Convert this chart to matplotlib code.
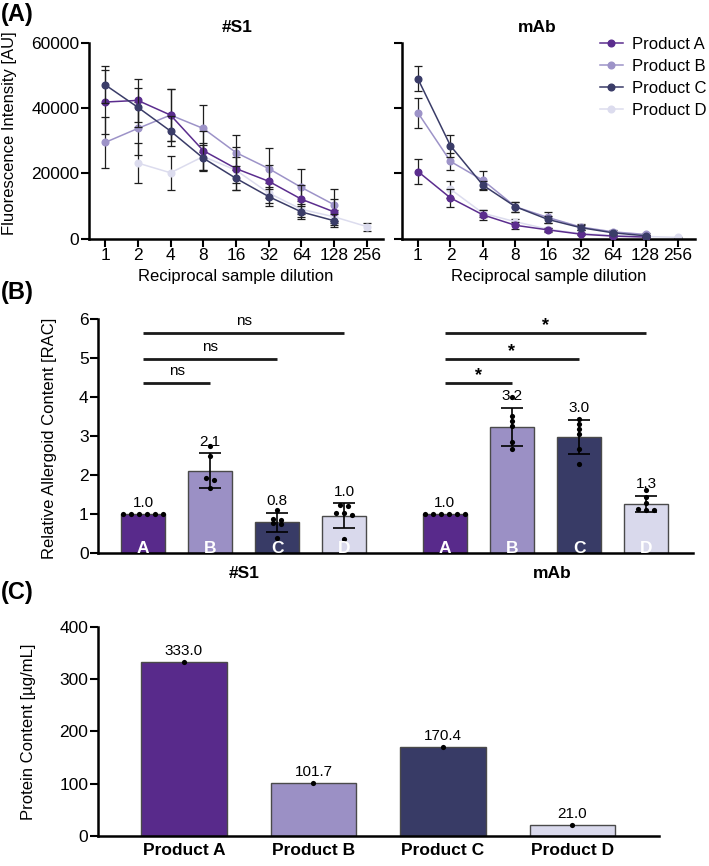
import numpy as np
import matplotlib
matplotlib.use("Agg")
import matplotlib.pyplot as plt
from matplotlib.lines import Line2D

plt.rcParams['font.family'] = ['Liberation Sans', 'DejaVu Sans']

# ---------------- data ----------------
products = ['Product A', 'Product B', 'Product C', 'Product D']
letters = ['A', 'B', 'C', 'D']
colors = ['#582a8b', '#9b90c5', '#383b66', '#d9d9ec']
line_colors = ['#5b2d8e', '#9d93c8', '#3a3c68', '#dcdcee']
dilutions = [1, 2, 4, 8, 16, 32, 64, 128, 256]
nan = np.nan

# Panel A, #S1 (fluorescence, AU)
s1_A = [41900, 42400, 37900, 27000, 21500, 17600, 12100, 8200, nan]
s1_A_err = [9700, 6600, 8000, 6000, 6500, 5000, 4500, 4000, nan]
s1_B = [29500, 33800, 37900, 33800, 26400, 21500, 15700, 10400, nan]
s1_B_err = [7700, 8000, 8000, 7300, 5400, 6400, 5700, 4900, nan]
s1_C = [47200, 40300, 33000, 24700, 18500, 12900, 8200, 5500, nan]
s1_C_err = [5700, 6000, 4500, 4000, 3700, 3000, 2300, 2000, nan]
s1_D = [nan, 23200, 20200, 25200, 21000, 14000, 9000, 6700, 3700]
s1_D_err = [nan, 6200, 5200, 4000, 4000, 3000, 2500, 2000, 1200]

# Panel A, mAb
mab_A = [20600, 12500, 7300, 4100, 2700, 1400, 800, 500, nan]
mab_A_err = [3700, 2800, 1500, 1000, 600, 400, 300, 200, nan]
mab_B = [38600, 23700, 17900, 9800, 6500, 3600, 2100, 1300, nan]
mab_B_err = [4600, 2600, 2900, 1500, 1800, 800, 500, 300, nan]
mab_C = [49000, 28500, 16400, 9800, 5900, 3400, 1800, 900, nan]
mab_C_err = [3800, 3400, 1200, 1500, 1000, 700, 400, 300, nan]
mab_D = [nan, 15200, 7800, 5200, 2900, 1600, 1000, 700, 400]
mab_D_err = [nan, 2600, 1000, 800, 500, 300, 200, 200, 200]

# Panel B, relative allergoid content
groups = ['#S1', 'mAb']
s1_rac_mean = [1.0, 2.12, 0.79, 0.96]
s1_rac_sd = [0.0, 0.44, 0.25, 0.32]
mab_rac_mean = [1.0, 3.24, 2.98, 1.27]
mab_rac_sd = [0.0, 0.48, 0.43, 0.20]
s1_rac_points = [[1.0] * 6,
                 [2.74, 2.49, 1.92, 1.88, 1.68],
                 [1.12, 0.87, 0.85, 0.78, 0.76, 0.38],
                 [1.24, 1.20, 1.04, 1.02, 0.98, 0.36]]
mab_rac_points = [[1.0] * 6,
                  [4.00, 3.52, 3.39, 3.26, 2.84, 2.67],
                  [3.44, 3.31, 3.18, 3.05, 2.67, 2.28],
                  [1.62, 1.44, 1.28, 1.13, 1.12, 1.11]]
sig_s1 = ['ns', 'ns', 'ns']
sig_mab = ['*', '*', '*']

# Panel C, protein content (µg/mL)
protein = [333.0, 101.7, 170.4, 21.0]

# ---------------- figure ----------------
W, H = 709, 866
fig = plt.figure(figsize=(W / 100, H / 100), dpi=100)


def px_axes(x0, y_top, x1, y_bot):
    return fig.add_axes([x0 / W, 1 - y_bot / H, (x1 - x0) / W, (y_bot - y_top) / H])


def style_axes(ax):
    for s in ['top', 'right']:
        ax.spines[s].set_visible(False)
    for s in ['left', 'bottom']:
        ax.spines[s].set_linewidth(1.8)
    ax.tick_params(direction='out', length=5.5, width=1.5, pad=1.5, labelsize=12.5)


LABEL_FS = 12

# ---------- Panel A ----------
axA1 = px_axes(89, 43, 383, 238.7)
axA2 = px_axes(402, 43, 695, 238.7)

s1_series = [(s1_A, s1_A_err), (s1_B, s1_B_err), (s1_C, s1_C_err), (s1_D, s1_D_err)]
mab_series = [(mab_A, mab_A_err), (mab_B, mab_B_err), (mab_C, mab_C_err), (mab_D, mab_D_err)]
draw_order = [3, 1, 0, 2]
zorders = {3: 2, 1: 3, 0: 4, 2: 5}

for ax, series in [(axA1, s1_series), (axA2, mab_series)]:
    style_axes(ax)
    for i in draw_order:
        y, e = series[i]
        ax.errorbar(dilutions, y, yerr=e, color=line_colors[i], marker='o', ms=4.8,
                    lw=1.1, ecolor='#1e1e1e', elinewidth=0.9, capsize=3, capthick=0.9,
                    zorder=zorders[i])
    ax.set_xscale('log', base=2)
    ax.set_xticks(dilutions)
    ax.set_xticklabels([str(d) for d in dilutions])
    ax.minorticks_off()
    ax.set_ylim(0, 60000)
    ax.set_yticks([0, 20000, 40000, 60000])
    ax.set_xlabel('Reciprocal sample dilution', fontsize=LABEL_FS, labelpad=4)

axA1.set_xlim(2 ** -0.49, 2 ** 8.49)
axA2.set_xlim(2 ** -0.49, 2 ** 8.52)
axA1.set_yticklabels(['0', '20000', '40000', '60000'])
axA2.set_yticklabels([])
axA1.set_ylabel('Fluorescence Intensity [AU]', fontsize=LABEL_FS)
axA1.yaxis.set_label_coords(-0.245, 0.54)
axA1.set_title('#S1', fontsize=12.5, fontweight='bold', x=0.503, pad=8)
axA2.set_title('mAb', fontsize=12.5, fontweight='bold', x=0.46, pad=8)

handles = [Line2D([0], [0], color=line_colors[i], marker='o', ms=4.8, lw=1.1) for i in range(4)]
fig.legend(handles, products, loc='upper left', bbox_to_anchor=(600 / W, 1 - 37 / H),
           frameon=False, fontsize=12, handlelength=1.35, handletextpad=0.6,
           labelspacing=0.42, borderpad=0, borderaxespad=0)

# ---------- Panel B ----------
axB = px_axes(98.3, 319, 693, 553.3)
style_axes(axB)
xb = np.concatenate([np.arange(4), np.arange(4) + 4.5])
means = s1_rac_mean + mab_rac_mean
sds = s1_rac_sd + mab_rac_sd
points = s1_rac_points + mab_rac_points
bar_cols = colors * 2
bw = 0.66
axB.bar(xb, means, width=bw, color=bar_cols, edgecolor='#4a4a4a', linewidth=1.0, zorder=2)
sd_arr = np.array(sds)
m_arr = np.array(means)
mask = sd_arr > 0
axB.errorbar(xb[mask], m_arr[mask], yerr=sd_arr[mask], fmt='none', ecolor='black',
             elinewidth=1.2, capsize=8, capthick=1.2, zorder=4)


def swarm_offsets(vals, thr=0.085, step=0.12):
    order = np.argsort(vals)[::-1]
    offs = np.zeros(len(vals))
    i = 0
    while i < len(order):
        j = i
        while j + 1 < len(order) and vals[order[i]] - vals[order[j + 1]] <= thr:
            j += 1
        n = j - i + 1
        for k in range(n):
            offs[order[i + k]] = (k - (n - 1) / 2) * step
        i = j + 1
    return offs


for xc, pts in zip(xb, points):
    pts = np.array(pts)
    offs = swarm_offsets(pts)
    axB.scatter(xc + offs, pts, s=14, color='black', zorder=5, linewidths=0)

for xc, m, s in zip(xb, means, sds):
    axB.text(xc, m + s + 0.3, f'{m:.1f}', ha='center', va='center', fontsize=11, zorder=6)

for xc, lt in zip(xb, letters * 2):
    axB.text(xc, 0.02, lt, ha='center', va='baseline', color='white', fontsize=12.5,
             fontweight='bold', zorder=6)

sig_heights = [4.36, 4.98, 5.65]
for g0, labels_sig in [(0, sig_s1), (4.5, sig_mab)]:
    for k, (h, lab) in enumerate(zip(sig_heights, labels_sig)):
        x1 = g0 + k + 1
        axB.plot([g0, x1], [h, h], color='#1a1a1a', lw=2.0, solid_capstyle='butt', zorder=3)
        if lab == '*':
            axB.text((g0 + x1) / 2, h - 0.03, lab, ha='center', va='bottom', fontsize=13,
                     fontweight='bold')
        else:
            axB.text((g0 + x1) / 2, h + 0.12, lab, ha='center', va='bottom', fontsize=11)

axB.set_xlim(-0.67, 8.2)
axB.set_ylim(0, 6)
axB.set_yticks(range(7))
axB.set_xticks([1.5, 6.1])
axB.set_xticklabels(groups, fontweight='bold', fontsize=12.5)
axB.tick_params(axis='x', length=0, pad=9)
axB.set_ylabel('Relative Allergoid Content [RAC]', fontsize=LABEL_FS)
axB.yaxis.set_label_coords(-0.069, 0.49)

# ---------- Panel C ----------
axC = px_axes(98, 626.7, 659, 836)
style_axes(axC)
xc_ = np.arange(4)
axC.bar(xc_, protein, width=0.66, color=colors, edgecolor='#4a4a4a', linewidth=1.0, zorder=2)
axC.scatter(xc_, protein, s=14, color='black', zorder=4, linewidths=0)
for x, v in zip(xc_, protein):
    axC.annotate(f'{v:.1f}', (x, v), xytext=(0, 3), textcoords='offset points',
                 ha='center', va='bottom', fontsize=11)
axC.set_xlim(-0.664, 3.668)
axC.set_ylim(0, 400)
axC.set_yticks([0, 100, 200, 300, 400])
axC.set_xticks(xc_)
axC.set_xticklabels(products, fontweight='bold', fontsize=12.5)
axC.tick_params(axis='x', length=0, pad=5)
axC.set_ylabel('Protein Content [µg/mL]', fontsize=LABEL_FS)
axC.yaxis.set_label_coords(-0.11, 0.5)

# ---------- panel letters ----------
fig.text(1 / W, 1 - 15 / H, '(A)', fontsize=17, fontweight='bold', va='center', ha='left')
fig.text(1 / W, 1 - 292 / H, '(B)', fontsize=17, fontweight='bold', va='center', ha='left')
fig.text(1 / W, 1 - 592 / H, '(C)', fontsize=17, fontweight='bold', va='center', ha='left')

fig.savefig('out.png', dpi=100)
